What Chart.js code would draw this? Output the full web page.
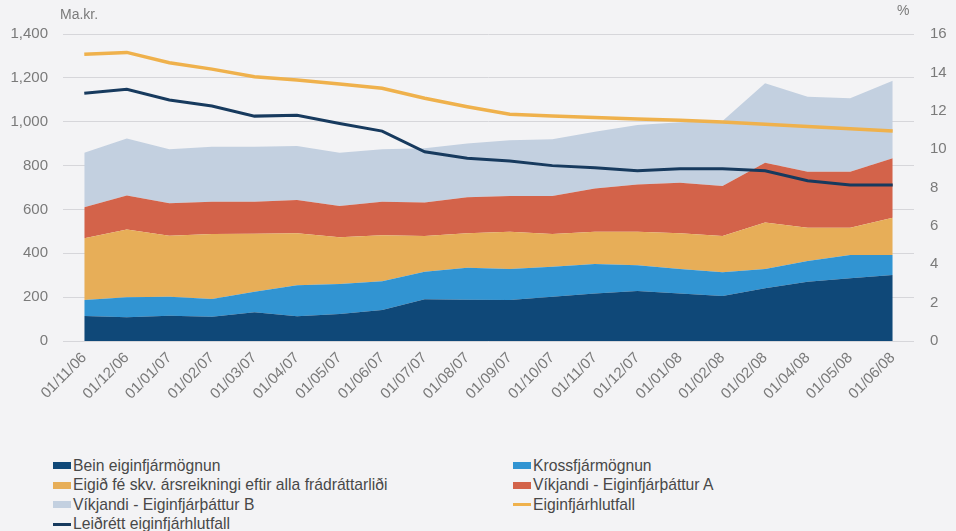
<!DOCTYPE html>
<html>
<head>
<meta charset="utf-8">
<script src="https://cdn.jsdelivr.net/npm/chart.js@4.4.1/dist/chart.umd.min.js"></script>
<style>
  body { margin: 0; background: #f3f3f5; font-family: "Liberation Sans", Arial, sans-serif; overflow: hidden; }
  #wrap { position: relative; width: 956px; height: 531px; }
  #chart { position: absolute; left: 0; top: 0; }
  .unit { position: absolute; color: #7a7a7a; font-size: 14px; }
  #legend { position: absolute; left: 53px; top: 456px; width: 900px; font-size: 15.7px; color: #484848; }
  .item { position: absolute; display: flex; align-items: center; height: 19px; white-space: nowrap; }
  .sw { width: 18px; height: 7px; margin-right: 2px; }
  .ln { width: 18px; height: 3px; margin-right: 2px; }
</style>
</head>
<body>
<div id="wrap">
  <canvas id="chart" width="956" height="420"></canvas>
  <div class="unit" style="left:60px; top:6px;">Ma.kr.</div>
  <div class="unit" style="left:897px; top:2px;">%</div>
  <div id="legend"></div>
</div>
<script>
const labels = ["01/11/06", "01/12/06", "01/01/07", "01/02/07", "01/03/07", "01/04/07", "01/05/07", "01/06/07", "01/07/07", "01/08/07",
  "01/09/07", "01/10/07", "01/11/07", "01/12/07", "01/01/08", "01/02/08", "01/02/08", "01/04/08", "01/05/08", "01/06/08"];

// Ma.kr. (stacked areas, left axis)
const bein = [114, 108, 115, 111, 131, 113, 123, 141, 190, 188, 187, 202, 217, 228, 217, 205, 240, 270, 286, 301];
const kross = [73, 91, 87, 80, 94, 141, 137, 131, 126, 146, 141, 137, 134, 117, 111, 108, 88, 95, 106, 91];
const eigidFe = [281, 310, 278, 297, 264, 237, 213, 210, 163, 157, 170, 149, 147, 153, 163, 166, 212, 152, 125, 170];
const vikjandiA = [142, 154, 148, 147, 146, 152, 143, 153, 153, 164, 163, 173, 198, 216, 231, 228, 273, 255, 255, 271];
const vikjandiB = [249, 261, 246, 251, 251, 246, 243, 239, 247, 246, 254, 259, 258, 271, 275, 296, 362, 342, 335, 354];

// % (lines, right axis)
const eiginfjarhlutfall = [14.94, 15.04, 14.5, 14.17, 13.77, 13.6, 13.39, 13.17, 12.65, 12.21,
  11.82, 11.73, 11.65, 11.57, 11.5, 11.42, 11.3, 11.18, 11.06, 10.94];
const leidrett = [12.91, 13.12, 12.56, 12.25, 11.72, 11.76, 11.34, 10.94, 9.86, 9.52,
  9.38, 9.14, 9.03, 8.87, 8.98, 8.98, 8.87, 8.35, 8.13, 8.13];

const leftTicks = [0, 200, 400, 600, 800, 1000, 1200, 1400];
const rightTicks = [0, 2, 4, 6, 8, 10, 12, 14, 16];

function area(label, data, color, fill) {
  return {
    label, data, fill,
    type: "line",
    yAxisID: "y",
    backgroundColor: color,
    borderColor: color,
    borderWidth: 0,
    pointRadius: 0,
    tension: 0,
    order: 1,
    legendType: "box"
  };
}

function line(label, data, color, width) {
  return {
    label, data,
    type: "line",
    yAxisID: "y1",
    fill: false,
    borderColor: color,
    backgroundColor: color,
    borderWidth: width,
    pointRadius: 0,
    tension: 0,
    order: 0,
    legendType: "line"
  };
}

const datasets = [
  area("Bein eiginfjármögnun", bein, "#0f4878", "origin"),
  area("Krossfjármögnun", kross, "#3194d2", "-1"),
  area("Eigið fé skv. ársreikningi eftir alla frádráttarliði", eigidFe, "#e7ae58", "-1"),
  area("Víkjandi - Eiginfjárþáttur A", vikjandiA, "#d3634a", "-1"),
  area("Víkjandi - Eiginfjárþáttur B", vikjandiB, "#c3d0e0", "-1"),
  line("Eiginfjárhlutfall", eiginfjarhlutfall, "#efb14c", 3.5),
  line("Leiðrétt eiginfjárhlutfall", leidrett, "#173a5e", 3)
];

const tickFont = { family: "Liberation Sans", size: 15 };

new Chart(document.getElementById("chart"), {
  type: "line",
  data: { labels, datasets },
  options: {
    responsive: false,
    animation: false,
    layout: { padding: { top: 34, left: 0, right: 0, bottom: 0 } },
    plugins: { legend: { display: false }, tooltip: { enabled: false } },
    scales: {
      x: {
        offset: true,
        grid: { display: false, drawTicks: false },
        border: { display: false },
        ticks: { color: "#7a7a7a", font: tickFont, minRotation: 45, maxRotation: 45, padding: 8, autoSkip: false },
        afterFit: s => { s.height = 79; }
      },
      y: {
        position: "left",
        stacked: true,
        min: 0,
        max: 1400,
        afterBuildTicks: s => { s.ticks = leftTicks.map(v => ({ value: v })); },
        grid: { color: "#d6d6da", lineWidth: 1, drawTicks: false },
        border: { display: false },
        ticks: { color: "#7a7a7a", font: tickFont, padding: 15 },
        afterFit: s => { s.width = 63; }
      },
      y1: {
        position: "right",
        stacked: false,
        min: 0,
        max: 16,
        afterBuildTicks: s => { s.ticks = rightTicks.map(v => ({ value: v })); },
        grid: { drawOnChartArea: false, drawTicks: false },
        border: { display: false },
        ticks: { color: "#7a7a7a", font: tickFont, padding: 16 },
        afterFit: s => { s.width = 42; }
      }
    }
  }
});

// two-column legend, filled row by row
const legend = document.getElementById("legend");
datasets.forEach((ds, i) => {
  const item = document.createElement("div");
  item.className = "item";
  item.style.left = (i % 2 === 0 ? 0 : 460) + "px";
  item.style.top = Math.floor(i / 2) * 19.5 + "px";
  const sw = document.createElement("span");
  sw.className = ds.legendType === "box" ? "sw" : "ln";
  sw.style.background = ds.legendType === "box" ? ds.backgroundColor : ds.borderColor;
  item.appendChild(sw);
  item.appendChild(document.createTextNode(ds.label));
  legend.appendChild(item);
});
</script>
</body>
</html>
